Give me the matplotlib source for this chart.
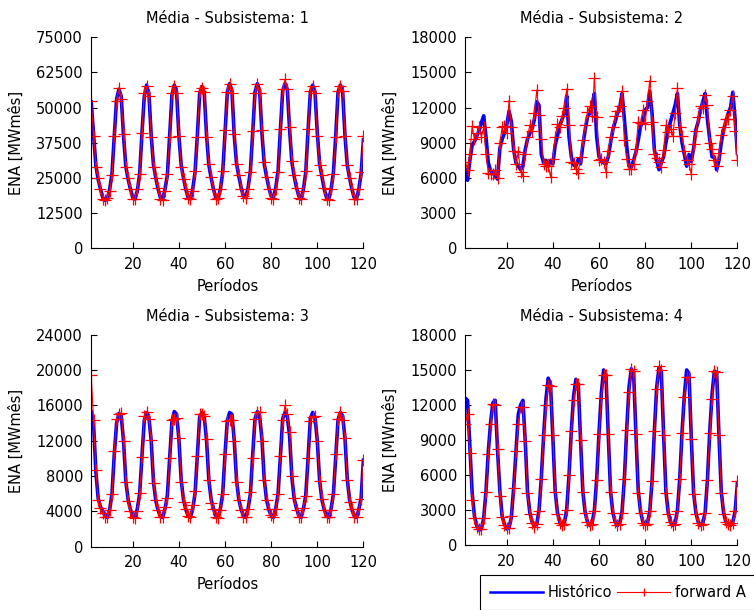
import matplotlib
matplotlib.use("Agg")
import matplotlib.pyplot as plt

# periods 2..120 (one row per year of 12 months)
periods = list(range(2, 121))

hist1 = [52000, 40500, 29500, 24500, 21000, 18000, 17000, 17500, 21000, 26500, 40000, 53000,
         56500, 54000, 40000, 29000, 24500, 21000, 18000, 17500, 20500, 26500, 41000, 54000,
         58000, 55000, 40000, 29500, 25000, 21000, 18000, 17500, 21000, 26000, 40000, 54500,
         58000, 55500, 40000, 29500, 25000, 21000, 18000, 17500, 21000, 27000, 40000, 55000,
         57500, 55000, 40000, 29500, 25000, 21000, 18000, 17500, 21000, 27000, 41000, 55500,
         58500, 56000, 40000, 30000, 25500, 21500, 18500, 18000, 21500, 27500, 41000, 55500,
         58500, 56000, 41000, 30000, 25500, 21500, 18500, 18000, 21500, 27500, 42000, 56000,
         58500, 56500, 42000, 30500, 25500, 21500, 18500, 17500, 21000, 27000, 42000, 55500,
         58000, 55500, 41000, 30000, 25500, 21000, 18000, 17500, 21000, 27000, 40000, 55500,
         58000, 55500, 40000, 29500, 25000, 21000, 18000, 17500, 21000, 26500, 38500]
fwd1 = [52500, 40000, 29000, 25000, 21000, 17500, 17000, 18000, 20500, 26000, 40000, 52500,
        57000, 53000, 40500, 29000, 25000, 21000, 17500, 17500, 21000, 26500, 41000, 55000,
        57500, 54000, 39500, 29000, 25000, 21500, 17500, 17000, 20500, 26500, 39500, 55000,
        57500, 55000, 40000, 29000, 24500, 21000, 18000, 17500, 20500, 27500, 39500, 56000,
        57000, 55500, 39500, 30000, 25500, 21000, 17500, 18000, 21000, 27500, 42000, 55500,
        58500, 55000, 40500, 30000, 26000, 21000, 18500, 18000, 21000, 27000, 41500, 55000,
        58500, 55000, 42000, 30500, 25500, 21000, 18000, 17500, 21000, 27000, 42500, 56500,
        60000, 56500, 43000, 31000, 26000, 21500, 18000, 17500, 20500, 27500, 42500, 56000,
        57500, 55000, 40000, 29500, 26000, 21500, 17500, 17000, 21000, 26500, 39500, 56000,
        57500, 56000, 40000, 29500, 25000, 21000, 17500, 17500, 21000, 27000, 40000]

hist2 = [6700, 5800, 7500, 8800, 9100, 9600, 10000, 10700, 11300, 9500, 7300, 6600,
         6400, 6200, 5900, 8500, 9300, 9800, 10500, 11700, 10800, 8400, 7300, 7000,
         6700, 7000, 8400, 9300, 9800, 10200, 11000, 12500, 12200, 8000, 7300, 7500,
         7000, 7500, 7200, 8800, 9600, 10500, 11000, 11500, 13000, 9500, 7800, 7100,
         7000, 7600, 7200, 8800, 10100, 11200, 11500, 12200, 13200, 9500, 7800, 7500,
         7300, 7200, 7800, 9000, 10100, 10800, 11500, 12000, 13200, 11000, 8700, 7000,
         6900, 7500, 8200, 9200, 10400, 10800, 11800, 12000, 13400, 11500, 8400, 7500,
         6700, 7300, 7800, 9000, 10100, 10800, 11500, 12200, 13200, 10500, 9000, 8000,
         7000, 8000, 7400, 8500, 10100, 10800, 11800, 12500, 13200, 11000, 9300, 7800,
         7800, 6700, 7500, 9000, 10100, 10800, 11500, 12000, 13300, 11000, 8100]
fwd2 = [7400, 6700, 8000, 10400, 9300, 9800, 10300, 9500, 10300, 8000, 6400, 6300,
        6300, 6700, 6000, 9000, 10300, 10400, 9800, 12600, 10300, 8300, 7200, 8200,
        6500, 6200, 8000, 9500, 10500, 10000, 11500, 13500, 11400, 9300, 7200, 7000,
        7000, 6100, 7600, 9500, 10600, 10300, 11300, 12000, 13600, 10500, 7400, 7300,
        6800, 6400, 7800, 9200, 10500, 11600, 12100, 11300, 14500, 11200, 7500, 7600,
        7400, 6500, 8300, 9500, 10300, 11300, 11700, 12100, 13400, 9200, 7600, 6800,
        6800, 7200, 8500, 10800, 10700, 11800, 10600, 12600, 14300, 10800, 8000, 7700,
        7400, 6900, 8400, 10500, 9900, 10200, 9600, 11500, 13700, 10300, 9600, 8300,
        7500, 7200, 6300, 8900, 10000, 11200, 12100, 12000, 13100, 12200, 9000, 8500,
        7500, 7000, 8100, 9700, 10300, 11000, 11000, 11800, 13000, 10000, 7500]

hist3 = [15300, 14000, 8500, 5500, 4500, 4000, 3500, 3300, 4200, 6000, 10500, 14000,
         15100, 14800, 12000, 7400, 5300, 4200, 3500, 3300, 4300, 6000, 10300, 14300,
         15200, 14600, 12000, 7300, 5200, 4100, 3400, 3300, 4300, 5800, 10000, 14200,
         15300, 15000, 12200, 7500, 5300, 4200, 3500, 3300, 4300, 6000, 10300, 14700,
         15200, 14700, 12000, 7500, 5300, 4300, 3500, 3300, 4300, 6000, 10500, 14300,
         15200, 15000, 12000, 7500, 5300, 4200, 3500, 3300, 4300, 6000, 10400, 14500,
         15300, 14800, 12200, 7600, 5300, 4200, 3500, 3300, 4300, 6000, 10200, 14500,
         15200, 14800, 12500, 7800, 5400, 4300, 3500, 3300, 4300, 5800, 10000, 14500,
         15200, 14700, 12000, 7500, 5300, 4200, 3500, 3300, 4300, 6000, 10200, 14400,
         15200, 14800, 12300, 7600, 5300, 4200, 3500, 3300, 4200, 5500, 9800]
fwd3 = [19400, 14400, 8700, 5300, 4400, 3800, 3300, 3400, 4200, 6000, 10800, 14500,
        15000, 15200, 12000, 7300, 5200, 4000, 3400, 3200, 4000, 6100, 10200, 14800,
        15300, 14500, 12100, 7200, 5300, 4200, 3300, 3300, 4500, 5500, 10000, 14400,
        14500, 14600, 12300, 7300, 5000, 4300, 3500, 3300, 4700, 6300, 10300, 15000,
        15000, 14800, 12200, 7500, 4900, 4300, 3300, 3200, 4200, 6000, 10500, 14200,
        14300, 14300, 12000, 7300, 5300, 4200, 3300, 3300, 4300, 6200, 10000, 14500,
        15300, 15300, 12000, 7500, 5300, 4300, 3600, 3300, 4300, 6000, 10300, 14400,
        16000, 15000, 13000, 8000, 5500, 4200, 3400, 3300, 4400, 5700, 10000, 14200,
        14700, 14800, 12000, 7400, 5400, 4100, 3400, 3300, 4200, 6000, 10500, 14500,
        15300, 14400, 12300, 7500, 5000, 4300, 3400, 3300, 4300, 5400, 9800]

hist4 = [12600, 12400, 8500, 4500, 2500, 1700, 1300, 1400, 2300, 4600, 8000, 10500,
         12200, 12400, 8200, 4700, 2500, 1800, 1400, 1500, 2400, 4900, 8000, 11200,
         12000, 12400, 9000, 4600, 2800, 2000, 1700, 1800, 3000, 5800, 9400, 12500,
         14300, 13700, 9200, 4600, 2800, 2000, 1700, 1900, 3100, 6000, 9800, 12800,
         14200, 13800, 9000, 4600, 2800, 2000, 1700, 1900, 3000, 5700, 9600, 13000,
         15000, 14600, 9500, 4600, 2800, 2000, 1700, 1900, 2900, 5700, 9900, 13500,
         15100, 14800, 9500, 4700, 2900, 2000, 1800, 1900, 2900, 5500, 9800, 13500,
         15200, 14900, 9500, 4600, 2800, 2000, 1700, 1900, 3000, 5700, 9700, 12800,
         15000, 14700, 9200, 4500, 2800, 2000, 1700, 1900, 2800, 5600, 9700, 12900,
         14900, 14800, 9400, 4600, 2800, 2000, 1800, 1700, 2000, 2900, 5300]
fwd4 = [10400, 11200, 7900, 3900, 2300, 1600, 1400, 1400, 2300, 4600, 7800, 10400,
        12100, 12000, 8200, 4200, 2400, 1700, 1500, 1500, 2500, 4900, 8100, 10400,
        11800, 11800, 8900, 4500, 2700, 1900, 1600, 1800, 2900, 5700, 9400, 12000,
        13700, 13600, 9400, 4600, 2700, 1900, 1700, 1800, 3000, 6000, 9800, 12400,
        13800, 13800, 9000, 4600, 2800, 2000, 1700, 1800, 2900, 5600, 9500, 12600,
        14600, 14600, 9500, 4600, 2800, 2000, 1700, 1800, 2800, 5700, 9900, 13100,
        15100, 14900, 9500, 4500, 2800, 1900, 1700, 1800, 2900, 5500, 9800, 13400,
        15300, 15000, 9400, 4500, 2700, 2000, 1700, 1800, 2900, 5700, 9600, 12700,
        14400, 14400, 9100, 4400, 2700, 1900, 1700, 1800, 2800, 5600, 9600, 12500,
        14900, 14800, 9400, 4500, 2700, 2000, 1800, 1700, 1900, 2900, 5500]

titles = ['Média - Subsistema: 1', 'Média - Subsistema: 2',
          'Média - Subsistema: 3', 'Média - Subsistema: 4']
y_max = [75000, 18000, 24000, 18000]
y_step = [12500, 3000, 4000, 3000]
series = [(hist1, fwd1), (hist2, fwd2), (hist3, fwd3), (hist4, fwd4)]

plt.rcParams['font.family'] = ['DejaVu Sans']
plt.rcParams['font.size'] = 10.5

fig = plt.figure(figsize=(7.54, 6.10), dpi=100)
boxes = [[0.121, 0.593, 0.361, 0.346], [0.617, 0.593, 0.361, 0.346],
         [0.121, 0.104, 0.361, 0.347], [0.617, 0.106, 0.361, 0.345]]

for i in range(4):
    ax = fig.add_axes(boxes[i])
    h, f = series[i]
    l1, = ax.plot(periods, h, color='#0000ff', lw=2.6, label='Histórico')
    l2, = ax.plot(periods, f, color='#ff0000', lw=0.8, marker='+', ms=9,
                  mew=0.9, label='forward A')
    ax.set_xlim(2, 120)
    ax.set_ylim(0, y_max[i])
    ax.set_xticks(range(20, 121, 20))
    ax.set_yticks(range(0, y_max[i] + 1, y_step[i]))
    ax.spines['top'].set_visible(False)
    ax.spines['right'].set_visible(False)
    ax.tick_params(direction='in', length=4, pad=6)
    ax.set_title(titles[i], fontsize=10.5, pad=10)
    ax.set_ylabel('ENA [MWmês]', labelpad=9)
    if i < 3:
        ax.set_xlabel('Períodos', labelpad=5)

leg = fig.legend([l1, l2], ['Histórico', 'forward A'], loc='upper left',
                 bbox_to_anchor=(480 / 754, 1 - 575 / 610), borderaxespad=0,
                 ncol=2, fancybox=False, edgecolor='black', framealpha=1,
                 handlelength=3.6, handletextpad=0.35, columnspacing=0.35,
                 borderpad=0.7, fontsize=10.5, markerscale=0.7)
leg.get_frame().set_linewidth(0.8)
leg.get_lines()[0].set_linewidth(1.8)

fig.savefig('out.png', dpi=100)
